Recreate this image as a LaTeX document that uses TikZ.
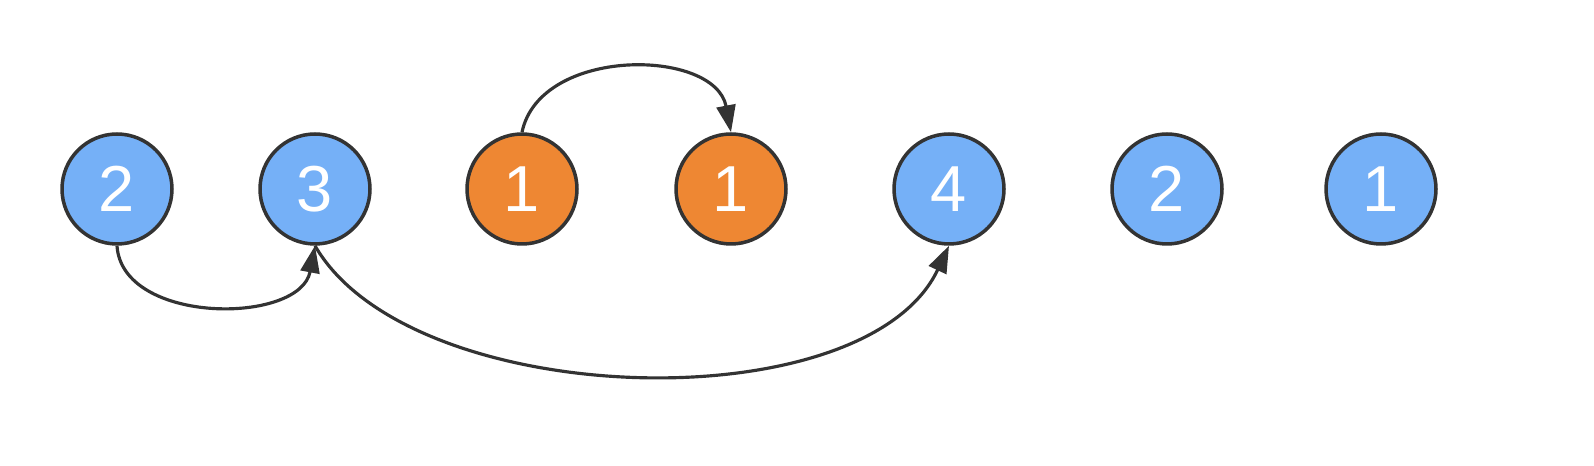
\documentclass[tikz,border=0pt]{standalone}
\usepackage{fontspec}
\newfontfamily\numfont{Liberation Sans}
\usetikzlibrary{arrows.meta}
\definecolor{ballblue}{RGB}{117,176,247}
\definecolor{ballorange}{RGB}{238,135,51}
\definecolor{edgegray}{RGB}{51,51,51}
\begin{document}
\begin{tikzpicture}[x=0.02cm, y=0.02cm,
  ball/.style={draw=edgegray, line width=2pt, circle, minimum size=2.2cm, inner sep=0pt,
    text=white, font=\numfont\fontsize{37}{37}\selectfont},
  blueball/.style={ball, fill=ballblue},
  orangeball/.style={ball, fill=ballorange},
  jump/.style={draw=edgegray, line width=1.8pt, -{Triangle[length=0.54cm, width=0.38cm]}}]
\useasboundingbox (0,0) rectangle (1594,466);

% Array elements
\node (n0) [blueball]   at ( 117, 277) {2};
\node (n1) [blueball]   at ( 315, 277) {3};
\node (n2) [orangeball] at ( 522, 277) {1};
\node (n3) [orangeball] at ( 731, 277) {1};
\node (n4) [blueball]   at ( 949, 277) {4};
\node (n5) [blueball]   at (1167, 277) {2};
\node (n6) [blueball]   at (1381, 277) {1};

% Jumps
\draw [jump] (n0.south) .. controls (122,141) and (300,141) .. (n1.south);
\draw [jump] (n1.south) .. controls (410,55) and (865,42) .. (n4.south);
\draw [jump] (n2.north) .. controls (540,420) and (715,418) .. (n3.north);

\end{tikzpicture}
\end{document}
